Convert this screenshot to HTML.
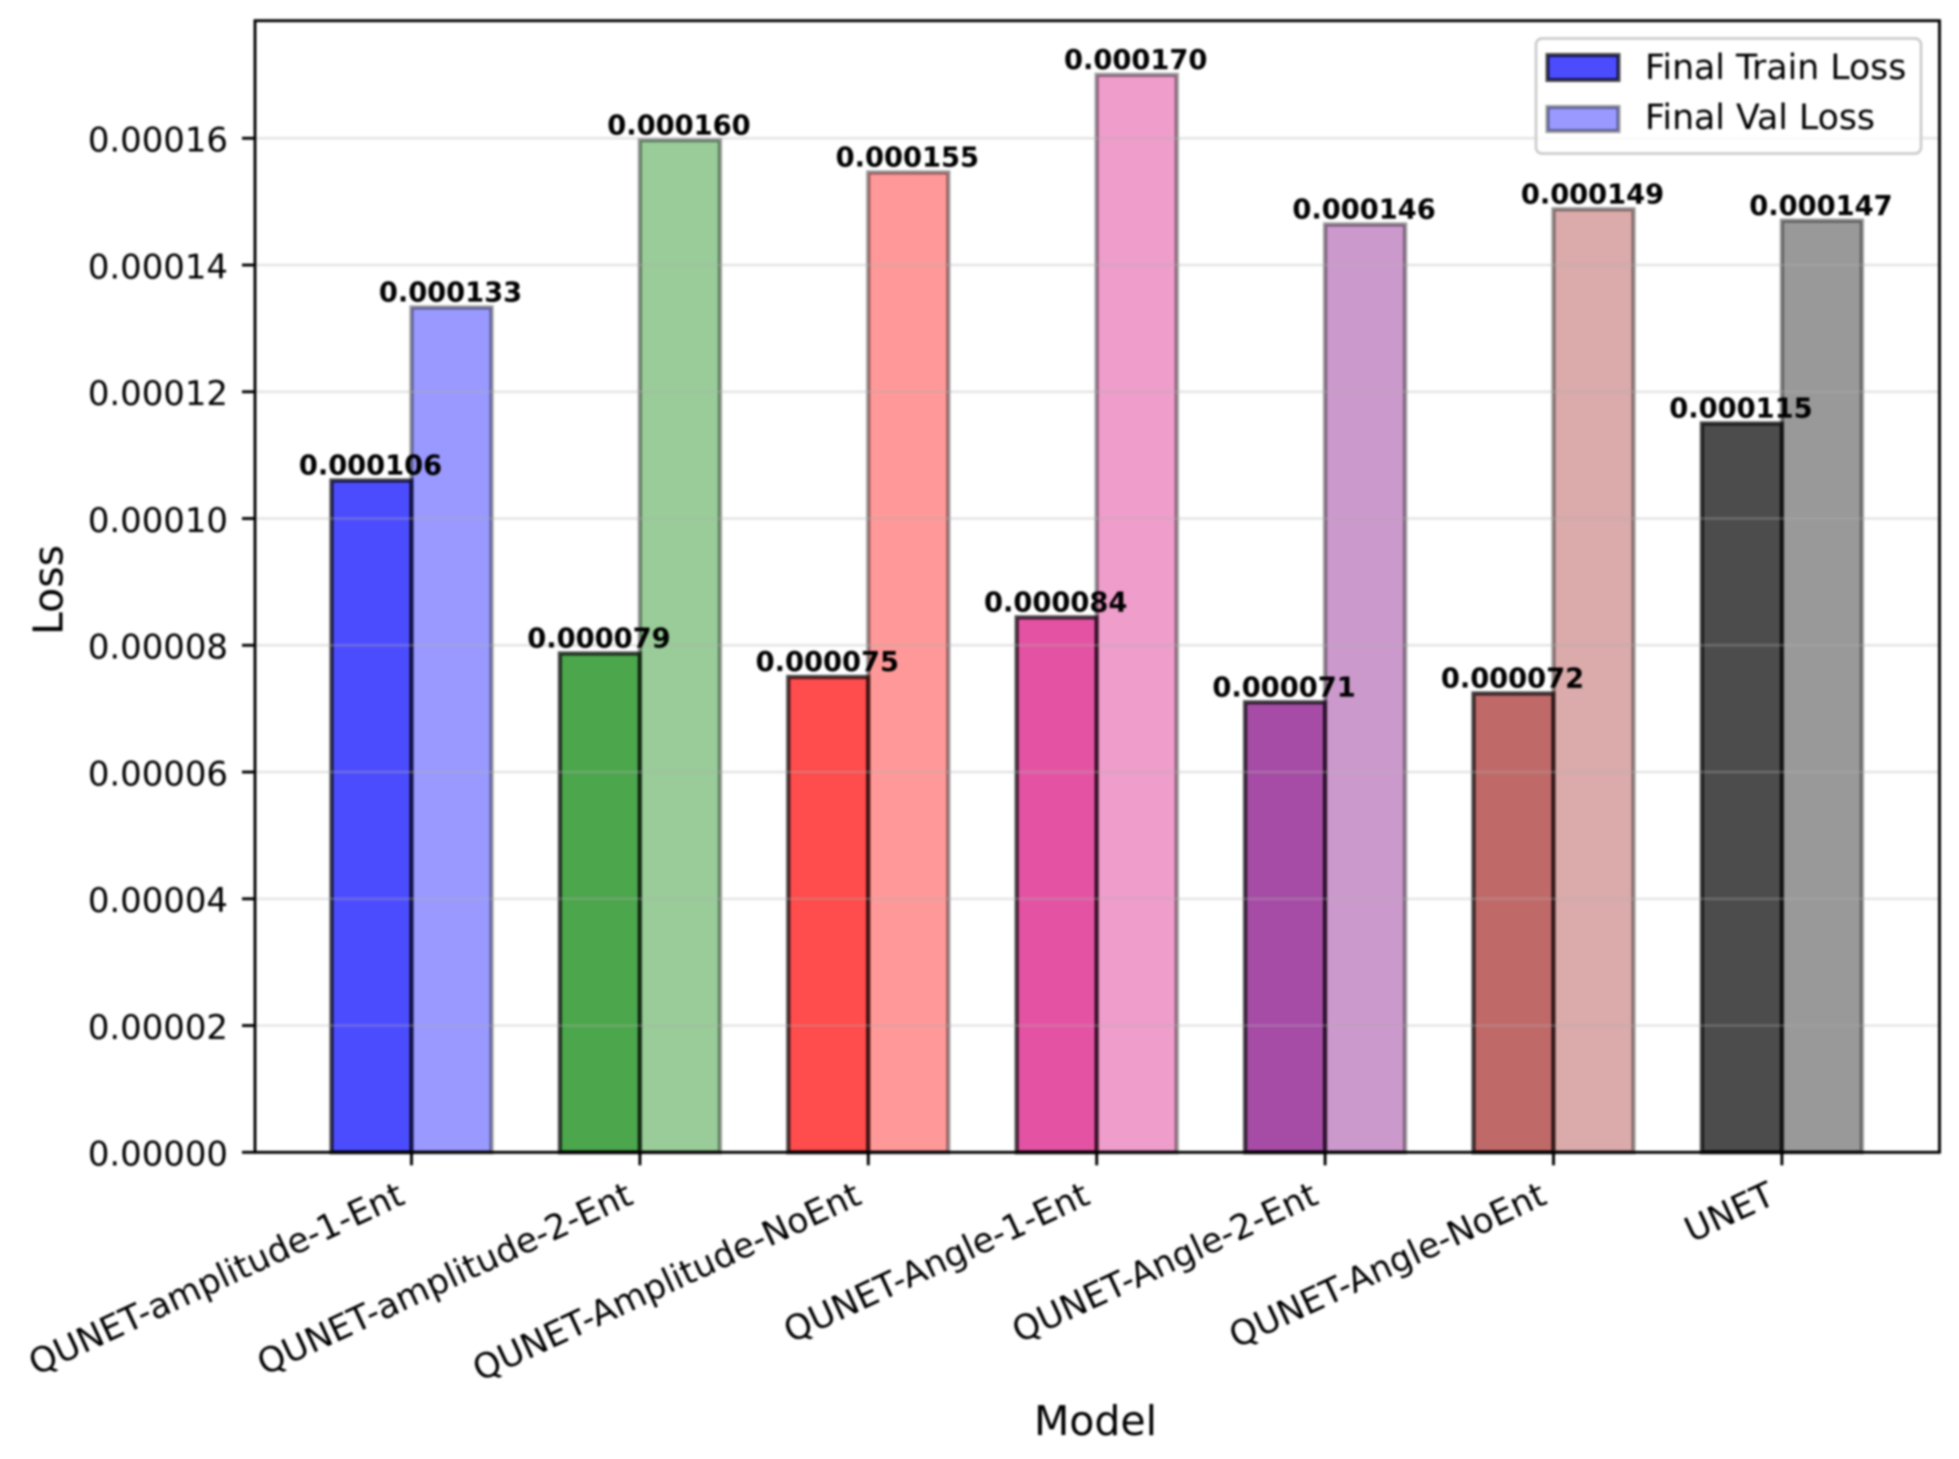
<!DOCTYPE html>
<html lang="en">
<head>
<meta charset="utf-8">
<title>Final Train and Validation Loss by Model</title>
<style>
  html, body { margin: 0; padding: 0; background: #fff; }
  body { width: 1959px; height: 1459px; overflow: hidden; }
  #chart { display: block; filter: blur(1.05px); font-family: "DejaVu Sans", "Liberation Sans", sans-serif; }
</style>
</head>
<body>
<svg id="chart" xmlns="http://www.w3.org/2000/svg" width="1959" height="1459" viewBox="0 0 1959 1459">
  <rect x="0" y="0" width="1959" height="1459" fill="#ffffff"/>
  <g id="bars"></g>
  <g id="grid"></g>
  <g id="value-labels"></g>
  <g id="y-axis"></g>
  <g id="x-axis"></g>
  <rect x="255" y="20.7" width="1684.5" height="1131.6" fill="none" stroke="#000" stroke-width="2.9"/>
  <text transform="translate(62.5 590) rotate(-90)" text-anchor="middle" font-size="41" fill="#000">Loss</text>
  <text x="1095.5" y="1435" text-anchor="middle" font-size="41" fill="#000">Model</text>
  <g>
    <rect x="1536" y="38.5" width="385" height="115" rx="6" ry="6" fill="#fff" fill-opacity="0.8" stroke="#cccccc" stroke-width="2.7"/>
    <g>
      <rect x="1547.5" y="55" width="71" height="25" fill="#0000ff" fill-opacity="0.7" stroke="#000" stroke-opacity="0.7" stroke-width="4"/>
      <text x="1645" y="79" font-size="34.7" fill="#000">Final Train Loss</text>
    </g>
    <g>
      <rect x="1547.5" y="107" width="71" height="24" fill="#0000ff" fill-opacity="0.4" stroke="#000" stroke-opacity="0.4" stroke-width="4"/>
      <text x="1645" y="129" font-size="34.7" fill="#000">Final Val Loss</text>
    </g>
  </g>
</svg>
<script>
const models = ["QUNET-amplitude-1-Ent", "QUNET-amplitude-2-Ent", "QUNET-Amplitude-NoEnt", "QUNET-Angle-1-Ent", "QUNET-Angle-2-Ent", "QUNET-Angle-NoEnt", "UNET"];
const trainLoss = [0.000106, 0.0000787, 0.000075, 0.0000844, 0.000071, 0.0000724, 0.000115];
const valLoss = [0.0001333, 0.0001597, 0.0001546, 0.00017, 0.0001464, 0.0001488, 0.000147];
const modelColors = ["#0000ff", "#008000", "#ff0000", "#d80a7c", "#800080", "#a52a2a", "#000000"];
const yTicks = [0, 0.00002, 0.00004, 0.00006, 0.00008, 0.0001, 0.00012, 0.00014, 0.00016];

const SVG_NS = "http://www.w3.org/2000/svg";
const plot = { left: 255, right: 1939.5, top: 20.7, bottom: 1152.3 };
const yMax = 0.00017855;
const firstTick = 411.5;
const tickStep = 228.4;
const barWidth = 80;

function xScale(i) { return firstTick + i * tickStep; }
function yScale(v) { return plot.bottom - (v / yMax) * (plot.bottom - plot.top); }
function make(tag, attrs, parent, text) {
  const el = document.createElementNS(SVG_NS, tag);
  for (const k in attrs) el.setAttribute(k, attrs[k]);
  if (text !== undefined) el.textContent = text;
  parent.appendChild(el);
  return el;
}

const barsG = document.getElementById("bars");
const gridG = document.getElementById("grid");
const labelsG = document.getElementById("value-labels");
const yAxisG = document.getElementById("y-axis");
const xAxisG = document.getElementById("x-axis");

function drawBar(i, value, offset, alpha, kind) {
  const top = yScale(value);
  const bar = make("rect", {
    x: xScale(i) + offset, y: top, width: barWidth, height: plot.bottom - top,
    fill: modelColors[i], "fill-opacity": alpha,
    stroke: "#000", "stroke-opacity": alpha, "stroke-width": 4.2
  }, barsG);
  
  
  const label = make("text", {
    x: xScale(i) + offset + barWidth / 2 - 1, y: top - 5.8,
    "text-anchor": "middle", "font-size": 27.3, "font-weight": "bold", fill: "#000"
  }, labelsG, value.toFixed(6));
  
  
}

models.forEach(function (m, i) {
  drawBar(i, trainLoss[i], -barWidth, 0.7, "train");
  drawBar(i, valLoss[i], 0, 0.4, "val");
});

yTicks.forEach(function (v) {
  const y = yScale(v);
  const gridLine = make("line", { x1: plot.left, x2: plot.right, y1: y, y2: y, stroke: "#b0b0b0", "stroke-opacity": 0.3, "stroke-width": 2.7 }, gridG);
  
  
  const tick = make("line", { x1: plot.left - 13, x2: plot.left, y1: y, y2: y, stroke: "#000", "stroke-width": 2.9 }, yAxisG);
  
  
  const tickLabel = make("text", { x: 228, y: y + 13.4, "text-anchor": "end", "font-size": 33.9, fill: "#000" }, yAxisG, v.toFixed(5));
  
  
});

models.forEach(function (m, i) {
  const x = xScale(i);
  const tick = make("line", { x1: x, x2: x, y1: plot.bottom, y2: plot.bottom + 13, stroke: "#000", "stroke-width": 2.9 }, xAxisG);
  
  
  const tickLabel = make("text", {
    transform: "translate(" + (x - 5) + " 1203) rotate(-25)",
    "text-anchor": "end", "font-size": 34.5, fill: "#000"
  }, xAxisG, m);
  
  
});
</script>
</body>
</html>
